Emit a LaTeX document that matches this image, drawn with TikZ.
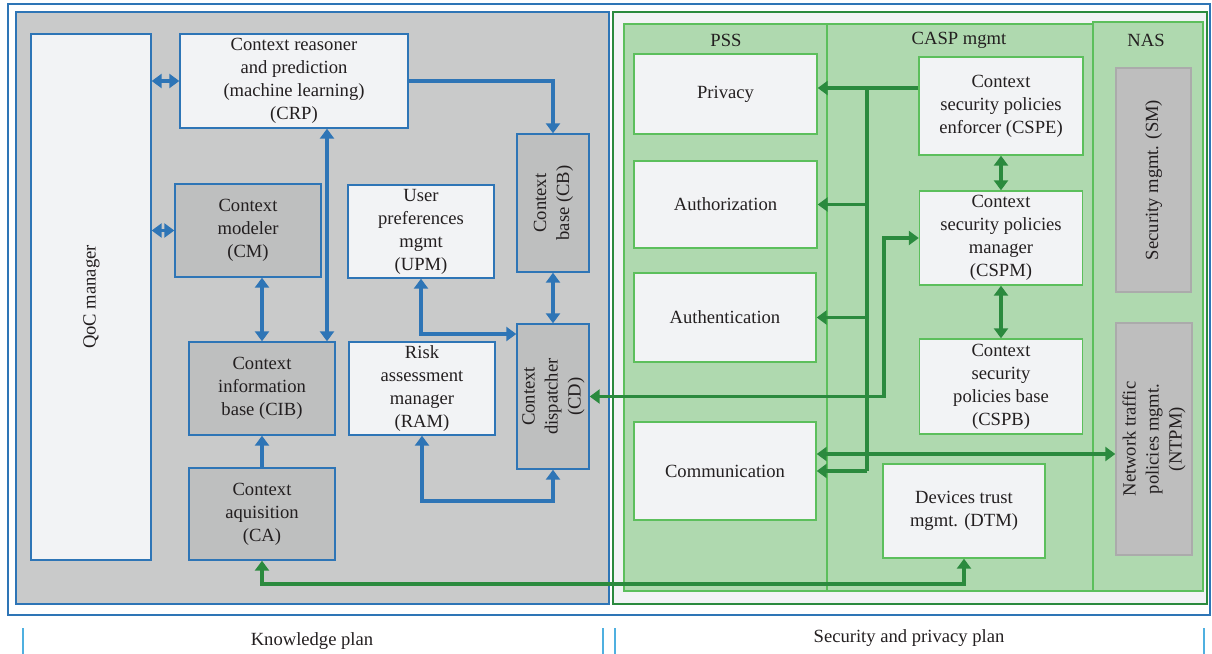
\documentclass[tikz,border=0pt]{standalone}
\usepackage{fontspec}
\setmainfont{Liberation Serif}
\usepackage{graphicx}
\usetikzlibrary{arrows.meta}
\definecolor{kblue}{HTML}{2E75B6}
\definecolor{kback}{HTML}{C9CACA}
\definecolor{kboxgray}{HTML}{BEBFBF}
\definecolor{pale}{HTML}{F2F3F5}
\definecolor{gdark}{HTML}{2B8A3E}
\definecolor{glight}{HTML}{AFD9AF}
\definecolor{gedge}{HTML}{5CBF5C}
\definecolor{ngray}{HTML}{BEBEBE}
\definecolor{ngrayedge}{HTML}{ABABAB}
\definecolor{tickblue}{HTML}{4FB0E0}
\definecolor{txt}{HTML}{231F20}
\newcommand{\vtext}[1]{\rotatebox{90}{\begin{tabular}{@{}c@{}}#1\end{tabular}}}

\begin{document}
\begin{tikzpicture}[x=0.5pt,y=-0.5pt,>={Triangle[length=5pt,width=7pt]}]
	\tikzset{every node/.style={font=\fontsize{9.3}{11.5}\selectfont,text=txt}}
	\tikzset{kbox/.style={draw=kblue,line width=0.7pt,fill=pale,align=center,inner sep=0pt}}
	\tikzset{kgbox/.style={kbox,fill=kboxgray}}
	\tikzset{sbox/.style={draw=gedge,line width=0.7pt,fill=pale,align=center,inner sep=0pt}}
	\tikzset{nbox/.style={draw=ngrayedge,line width=0.7pt,fill=ngray,inner sep=0pt}}
	\tikzset{karrow/.style={draw=kblue,line width=1.9pt}}
	\tikzset{garrow/.style={draw=gdark,line width=1.9pt}}
	\useasboundingbox (0,0) rectangle (1212,654);

	\draw[kblue,line width=0.6pt] (8,4) rectangle (1210,615);
	\draw[kblue,line width=0.7pt,fill=kback] (16,12) rectangle (609,604);
	\draw[gdark,line width=0.7pt,fill=pale] (613,12) rectangle (1207,604);
	\draw[gedge,line width=0.6pt,fill=glight] (624,24) rectangle (827,591);
	\draw[gedge,line width=0.6pt,fill=glight] (827,24) rectangle (1093,591);
	\draw[gedge,line width=0.6pt,fill=glight] (1093,22) rectangle (1203,591);

	\node (psslbl) at (726,40) {PSS};
	\node (casplbl) at (959,40) {CASP mgmt};
	\node (naslbl) at (1146,40) {NAS};

	\node[kbox,minimum width=60pt,minimum height=263pt] (qoc) at (91,297) {\vtext{QoC manager}};
	\node[kbox,minimum width=114pt,minimum height=47pt] (crp) at (294,81) {Context reasoner\\and prediction\\(machine learning)\\(CRP)};
	\node[kgbox,minimum width=73pt,minimum height=46.5pt] (cm) at (248,230.5) {Context\\modeler\\(CM)};
	\node[kbox,minimum width=73pt,minimum height=46.5pt] (upm) at (421,231.5) {User\\preferences\\mgmt\\(UPM)};
	\node[kgbox,minimum width=36pt,minimum height=69pt] (cb) at (553,203) {\vtext{Context\\base (CB)}};
	\node[kgbox,minimum width=73pt,minimum height=46.5pt] (cib) at (262,388.5) {Context\\information\\base (CIB)};
	\node[kbox,minimum width=73pt,minimum height=46.5pt] (ram) at (422,388.5) {Risk\\assessment\\manager\\(RAM)};
	\node[kgbox,minimum width=36pt,minimum height=72.5pt] (cd) at (553,396.5) {\vtext{Context\\dispatcher\\(CD)}};
	\node[kgbox,minimum width=73pt,minimum height=46pt] (ca) at (262,514) {Context\\aquisition\\(CA)};

	\node[sbox,minimum width=91.5pt,minimum height=40pt] (privacy) at (725.5,94) {Privacy};
	\node[sbox,minimum width=91.5pt,minimum height=43.5pt] (authorization) at (725.5,204.5) {Authorization};
	\node[sbox,minimum width=91pt,minimum height=44.5pt] (authentication) at (725,317.5) {Authentication};
	\node[sbox,minimum width=91pt,minimum height=49pt] (communication) at (725,471) {Communication};
	\node[sbox,minimum width=82pt,minimum height=49pt] (cspe) at (1001,106) {Context\\security policies\\enforcer (CSPE)};
	\node[sbox,minimum width=81.5pt,minimum height=47pt] (cspm) at (1001,238) {Context\\security policies\\manager\\(CSPM)};
	\node[sbox,minimum width=81.5pt,minimum height=47.5pt] (cspb) at (1001,386.5) {Context\\security\\policies base\\(CSPB)};
	\node[sbox,minimum width=81pt,minimum height=47pt] (dtm) at (964,511) {Devices trust\\mgmt. (DTM)};
	\node[nbox,minimum width=37.5pt,minimum height=112pt] (sm) at (1153.5,180) {\vtext{Security mgmt. (SM)}};
	\node[nbox,minimum width=38pt,minimum height=116pt] (ntpm) at (1154,439) {\vtext{Network traffic\\policies mgmt.\\(NTPM)}};

	\coordinate (kx) at (327,0);
	\coordinate (ux) at (0,334);
	\coordinate (bus) at (867,88);
	\coordinate (gx) at (884,0);
	\coordinate (net) at (0,454);
	\coordinate (low) at (600,584);

	\draw[karrow,<->] (qoc.east |- crp) -- (crp.west);
	\draw[karrow,<->] (qoc.east |- cm) -- (cm.west);
	\draw[karrow,->] (crp.east) -| (cb.north);
	\draw[karrow,<->] (crp.south -| kx) -- (cib.north -| kx);
	\draw[karrow,<->] (cm.south -| cib) -- (cib.north);
	\draw[karrow,->] (ca.north) -- (cib.south);
	\draw[karrow,<->] (upm.south) |- (cd.west |- ux);
	\draw[karrow,<->] (cb.south) -- (cd.north);
	\draw[karrow,<->] (ram.south) -- ++(0,65) -| (cd.south);

	\draw[garrow,->] (cspe.west |- bus) -- (privacy.east |- bus);
	\draw[garrow] (bus) -- (bus |- communication);
	\draw[garrow,->] (bus |- authorization) -- (authorization.east);
	\draw[garrow,->] (bus |- authentication) -- (authentication.east);
	\draw[garrow,->] (bus |- communication) -- (communication.east);
	\draw[garrow,<->] (communication.east |- net) -- (ntpm.west |- net);
	\draw[garrow,<->] (cd.east) -| (gx |- cspm) -- (cspm.west);
	\draw[garrow,<->] (cspe.south) -- (cspm.north);
	\draw[garrow,<->] (cspm.south) -- (cspb.north);
	\draw[garrow,<->] (ca.south) |- (low) -| (dtm.south);

	\draw[tickblue,line width=0.6pt] (23,628) -- (23,654);
	\draw[tickblue,line width=0.6pt] (603,628) -- (603,654);
	\draw[tickblue,line width=0.6pt] (615,628) -- (615,654);
	\draw[tickblue,line width=0.6pt] (1204,628) -- (1204,654);
	\node (kplan) at (312,641) {Knowledge plan};
	\node (splan) at (909,638) {Security and privacy plan};
\end{tikzpicture}
\end{document}
